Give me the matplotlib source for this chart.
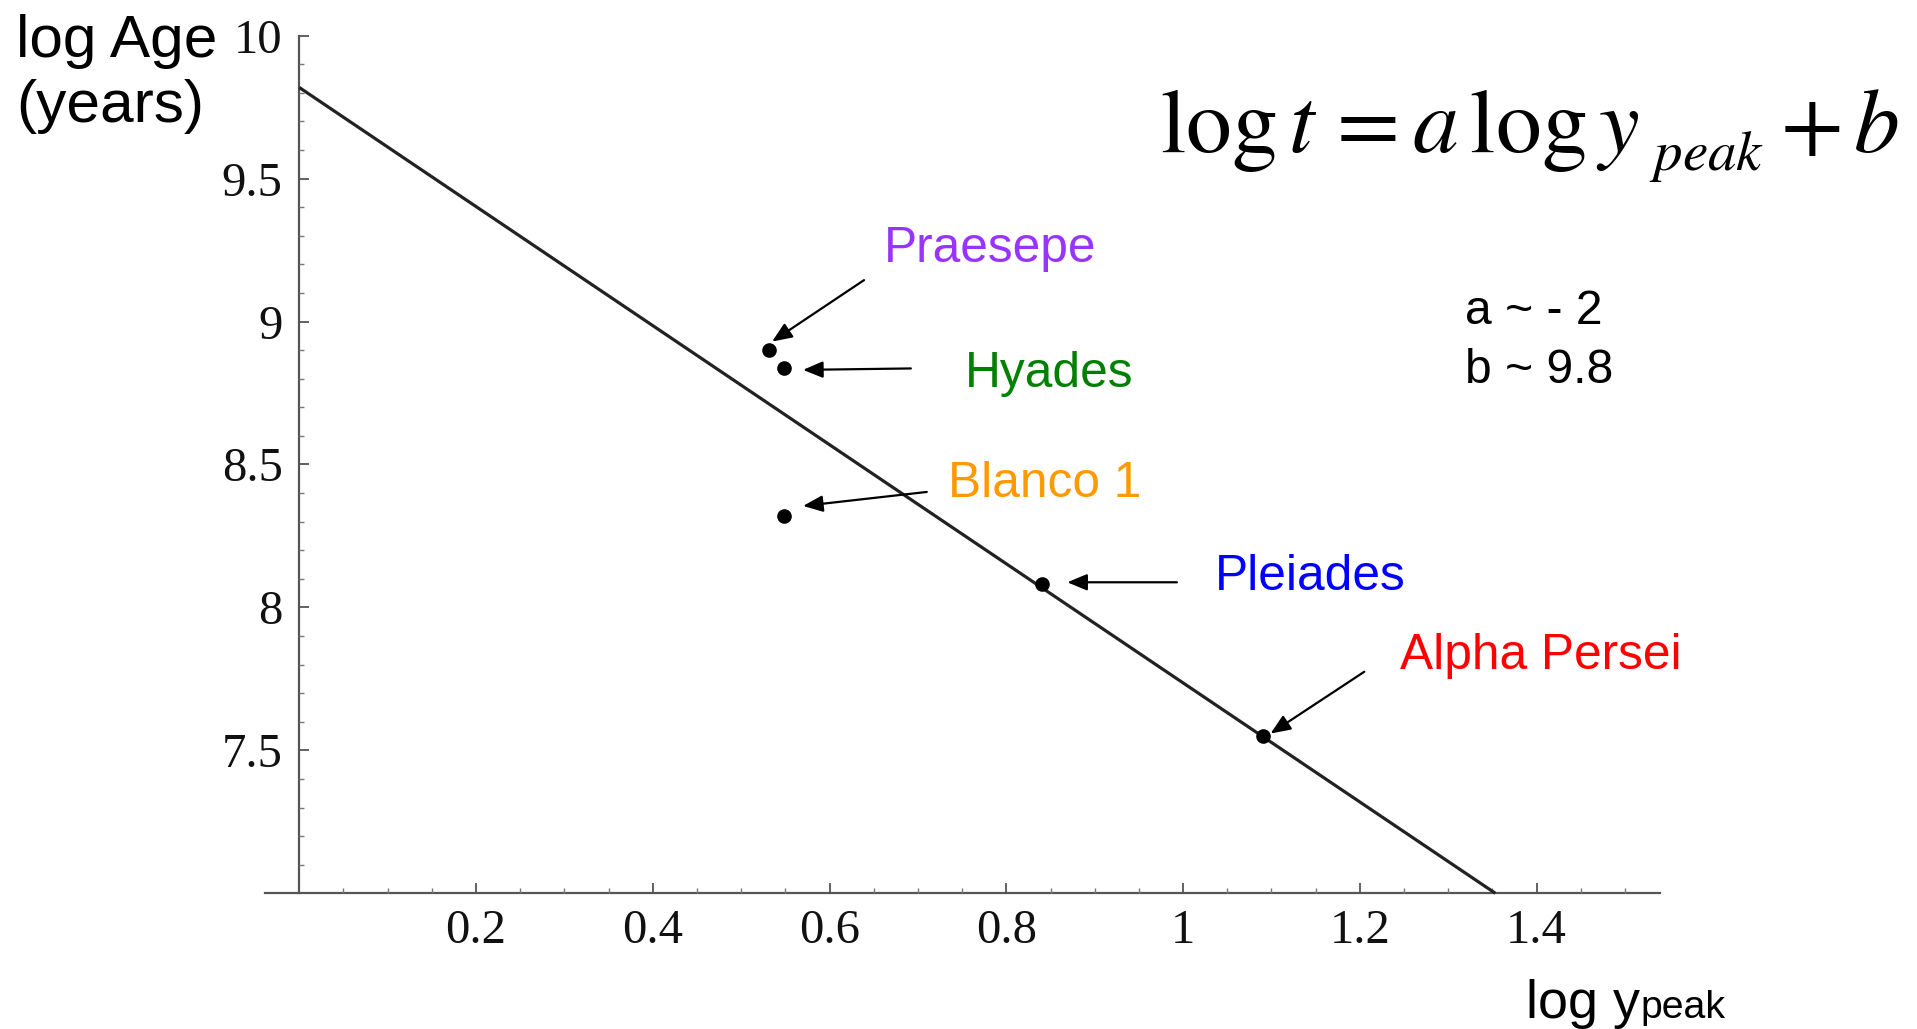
import matplotlib
matplotlib.use("Agg")
import matplotlib.pyplot as plt
from matplotlib.ticker import FixedLocator, FuncFormatter

# ---- data ----
clusters = ["Praesepe", "Hyades", "Blanco 1", "Pleiades", "Alpha Persei"]
log_ypeak = [0.532, 0.548, 0.548, 0.840, 1.090]
log_age = [8.902, 8.838, 8.320, 8.082, 7.551]
label_colors = ["#9933FF", "#008000", "#FF9900", "#0000FF", "#FF0000"]
# arrow tails / heads and label anchor positions (data coords)
arrow_tail_x = [0.639, 0.692, 0.710, 0.993, 1.205]
arrow_tail_y = [9.145, 8.836, 8.404, 8.088, 7.775]
arrow_head_x = [0.535, 0.570, 0.570, 0.869, 1.099]
arrow_head_y = [8.930, 8.831, 8.355, 8.088, 7.559]
label_x = [0.6616, 0.7533, 0.7344, 1.036, 1.2454]
label_y = [9.210, 8.770, 8.387, 8.061, 7.783]

fit_a = -2.083
fit_b = 9.819

x_major = [0.2, 0.4, 0.6, 0.8, 1.0, 1.2, 1.4]
y_major = [7.5, 8.0, 8.5, 9.0, 9.5, 10.0]
x_minor = [i * 0.05 for i in range(1, 31)]
y_minor = [7.0 + i * 0.1 for i in range(1, 30)]

W, H = 1917, 1029
plt.rcParams["mathtext.fontset"] = "stix"
fig = plt.figure(figsize=(W / 100, H / 100), dpi=100)

def fx(px):
    return px / W

def fy(py):
    return 1 - py / H

x0_px, x1_px = 265.2, 1659.5
ytop_px, ybot_px = 35.7, 893.3
ax = fig.add_axes([fx(x0_px), fy(ybot_px), (x1_px - x0_px) / W, (ybot_px - ytop_px) / H])
ax.set_xlim(-0.0385, 1.539)
ax.set_ylim(7.0, 10.0)

for s in ["top", "right"]:
    ax.spines[s].set_visible(False)
ax.spines["left"].set_position(("data", 0))
for s in ["left", "bottom"]:
    ax.spines[s].set_color("#555555")
    ax.spines[s].set_linewidth(1.6)
    ax.spines[s].set_zorder(1)

ax.xaxis.set_major_locator(FixedLocator(x_major))
ax.yaxis.set_major_locator(FixedLocator(y_major))
ax.xaxis.set_minor_locator(FixedLocator(x_minor))
ax.yaxis.set_minor_locator(FixedLocator(y_minor))
fmt = FuncFormatter(lambda v, p: "%g" % v)
ax.xaxis.set_major_formatter(fmt)
ax.yaxis.set_major_formatter(fmt)
ax.tick_params(which="major", direction="in", length=7, width=1.3, color="#555555")
ax.tick_params(which="minor", direction="in", length=3.8, width=1.0, color="#777777")
ax.tick_params(axis="x", which="major", pad=11)
ax.tick_params(axis="y", which="major", pad=12)
for lab in ax.get_xticklabels() + ax.get_yticklabels():
    lab.set_fontfamily("Liberation Serif")
    lab.set_fontsize(35)
    lab.set_color("#111111")
ax.patch.set_alpha(0)

# fit line from x=0 to where it meets the bottom axis
x_end = (7.0 - fit_b) / fit_a
ax.plot([0, x_end], [fit_b, fit_a * x_end + fit_b], color="#222222", lw=2.3,
        solid_capstyle="butt", zorder=2, clip_on=False)

ax.plot(log_ypeak, log_age, "o", color="black", markersize=9.5, zorder=3, clip_on=False)

for i, name in enumerate(clusters):
    ax.annotate("", xy=(arrow_head_x[i], arrow_head_y[i]),
                xytext=(arrow_tail_x[i], arrow_tail_y[i]),
                arrowprops=dict(arrowstyle="-|>,head_length=0.6,head_width=0.25",
                                color="black", lw=1.6, shrinkA=0, shrinkB=0,
                                mutation_scale=20),
                zorder=4)
    ax.text(label_x[i], label_y[i], name, color=label_colors[i],
            fontsize=35.7, fontfamily="Liberation Sans", ha="left", va="baseline")

# axis titles
fig.text(fx(16), fy(57), "log Age", fontsize=43.5, fontfamily="Liberation Sans",
         ha="left", va="baseline")
fig.text(fx(16), fy(122), "(years)", fontsize=43.5, fontfamily="Liberation Sans",
         ha="left", va="baseline")

t_log = fig.text(fx(1526), fy(1018), "log y", fontsize=38.8,
                 fontfamily="Liberation Sans", ha="left", va="baseline")

# equation, built from three pieces so the subscript can sit lower
eq_main = fig.text(fx(1160), fy(152),
                   r"$\log t\hspace{0.15}=a\hspace{0.17}\log y$", fontsize=66,
                   ha="left", va="baseline")
eq_end = fig.text(fx(1899), fy(152), r"$+\,b$", fontsize=66,
                  ha="right", va="baseline")

fig.canvas.draw()
bb = t_log.get_window_extent()
fig.text(bb.x1 / W, fy(1018), "peak", fontsize=28.3,
         fontfamily="Liberation Sans", ha="left", va="baseline")
bb_eq = eq_main.get_window_extent()
fig.text((bb_eq.x1 + 10) / W, fy(170), r"$peak$", fontsize=41,
         ha="left", va="baseline")

fig.text(fx(1465), fy(324), "a ~ - 2", fontsize=34.6, fontfamily="Liberation Sans",
         ha="left", va="baseline")
fig.text(fx(1465), fy(383), "b ~ 9.8", fontsize=34.6, fontfamily="Liberation Sans",
         ha="left", va="baseline")

fig.savefig("out.png", dpi=100)
